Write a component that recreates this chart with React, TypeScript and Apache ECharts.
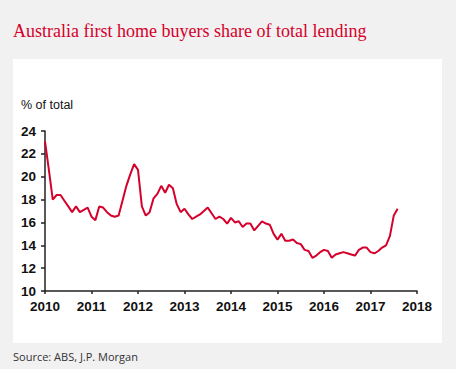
import React, { useEffect, useRef } from "react";
import * as echarts from "echarts";

const titleText = "Australia first home buyers share of total lending";
const sourceText = "Source: ABS, J.P. Morgan";
const yAxisName = "% of total";
const startYear = 2010;
// Monthly share (%) from Jan 2010 to Aug 2017
const shareValues = [
  23.1, 20.6, 18.0, 18.4, 18.4, 17.9, 17.4, 16.9, 17.4, 16.9, 17.1, 17.3,
  16.5, 16.2, 17.4, 17.3, 16.9, 16.6, 16.5, 16.6, 17.9, 19.2, 20.2, 21.1,
  20.6, 17.4, 16.6, 16.9, 18.1, 18.5, 19.2, 18.6, 19.3, 19.0, 17.6, 16.9,
  17.2, 16.7, 16.3, 16.5, 16.7, 17.0, 17.3, 16.8, 16.3, 16.5, 16.3, 15.9,
  16.4, 16.0, 16.1, 15.6, 15.9, 15.9, 15.3, 15.7, 16.1, 15.9, 15.8, 15.0,
  14.5, 15.0, 14.4, 14.4, 14.5, 14.2, 14.1, 13.6, 13.5, 12.9, 13.1, 13.4,
  13.6, 13.5, 12.9, 13.2, 13.3, 13.4, 13.3, 13.2, 13.1, 13.6, 13.8, 13.8,
  13.4, 13.3, 13.5, 13.8, 14.0, 14.8, 16.6, 17.2,
];

export default function App() {
  const ref = useRef<HTMLDivElement>(null);
  useEffect(() => {
    document.body.style.margin = "0";
    const chart = echarts.init(ref.current!, null, { renderer: "svg" });
    const seriesData = shareValues.map((v, i) => [startYear + i / 12, v]);
    const axisFont = {
      fontFamily: "'Liberation Sans Narrow', 'Liberation Sans', Arial, sans-serif",
      fontSize: 13.5,
      fontWeight: "bold" as const,
      color: "#111",
    };
    chart.setOption({
      animation: false,
      backgroundColor: "#f1f1f1",
      graphic: [
        {
          type: "rect",
          shape: { x: 13, y: 59, width: 429, height: 284 },
          style: { fill: "#ffffff" },
          z: -10,
          silent: true,
        },
        {
          type: "text",
          x: 13,
          y: 31,
          style: {
            text: titleText,
            fill: "#d5002b",
            font: "18px 'Liberation Serif', 'DejaVu Serif', serif",
            textVerticalAlign: "middle",
          },
        },
        {
          type: "text",
          x: 13,
          y: 356,
          style: {
            text: sourceText,
            fill: "#333",
            font: "11px 'Open Sans', 'Liberation Sans', sans-serif",
            textVerticalAlign: "middle",
          },
        },
        {
          type: "text",
          x: 21,
          y: 105,
          style: {
            text: yAxisName,
            fill: "#111",
            font: "12.5px 'Liberation Sans Narrow', 'Liberation Sans', Arial, sans-serif",
            textVerticalAlign: "middle",
          },
        },
      ],
      grid: { left: 45, right: 39, top: 131, bottom: 78, containLabel: false },
      xAxis: {
        type: "value",
        min: 2010,
        max: 2018,
        interval: 1,
        axisLine: { show: true, lineStyle: { color: "#222", width: 1.5 } },
        axisTick: { show: true, length: 3, inside: false, lineStyle: { color: "#222", width: 1.5 } },
        splitLine: { show: false },
        axisLabel: { ...axisFont, margin: 8, formatter: (v: number) => String(Math.round(v)) },
      },
      yAxis: {
        type: "value",
        min: 10,
        max: 24,
        interval: 2,
        axisLine: { show: true, lineStyle: { color: "#222", width: 1.5 } },
        axisTick: { show: true, length: 4, lineStyle: { color: "#222", width: 1.5 } },
        splitLine: { show: false },
        axisLabel: { ...axisFont, margin: 9 },
      },
      series: [
        {
          type: "line",
          data: seriesData,
          showSymbol: false,
          lineStyle: { color: "#d5002b", width: 2 },
          itemStyle: { color: "#d5002b" },
        },
      ],
    });
    return () => chart.dispose();
  }, []);
  return <div ref={ref} style={{ width: 456, height: 369, position: "absolute", left: 0, top: 0 }} />;
}
